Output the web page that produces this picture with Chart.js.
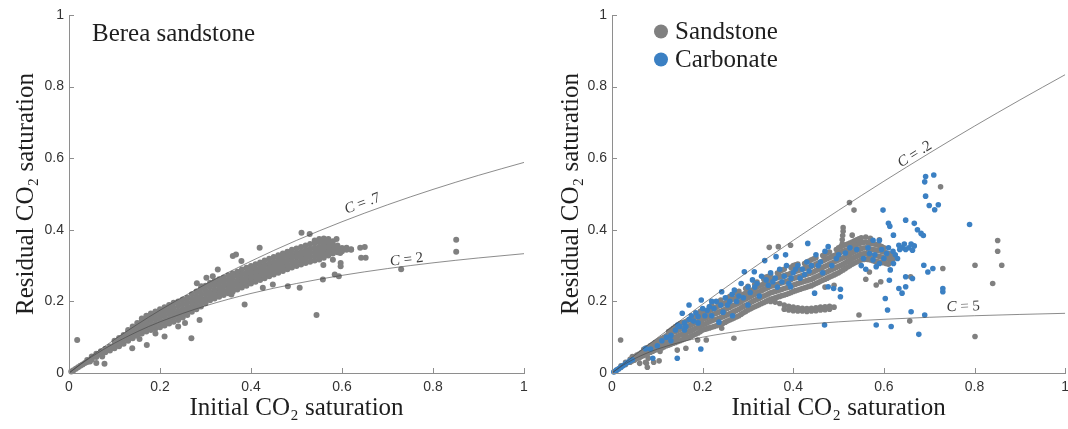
<!DOCTYPE html>
<html>
<head>
<meta charset="utf-8">
<script src="https://cdn.jsdelivr.net/npm/chart.js@4.4.1/dist/chart.umd.min.js"></script>
<style>
  html, body { margin: 0; padding: 0; background: #fff; }
  #wrap { position: relative; width: 1068px; height: 429px; overflow: hidden; }
  canvas { position: absolute; top: 0; }
</style>
</head>
<body>
<div id="wrap">
  <canvas id="berea" width="534" height="429" style="left:0"></canvas>
  <canvas id="rocks" width="534" height="429" style="left:534px"></canvas>
</div>
<script>
// ---- axis ticks ----
const tickValues = [0, 0.2, 0.4, 0.6, 0.8, 1];
const tickLabels = ['0', '0.2', '0.4', '0.6', '0.8', '1'];

// ---- Land trapping curves, sampled at curveX ----
const curveX  = [0, 0.025, 0.05, 0.075, 0.1, 0.15, 0.2, 0.3, 0.4, 0.5, 0.6, 0.7, 0.8, 0.9, 1];
const landC07 = [0, 0.0246, 0.0483, 0.0713, 0.0935, 0.1357, 0.1754, 0.2479, 0.3125, 0.3704, 0.4225, 0.4698, 0.5128, 0.5521, 0.5882];
const landC2  = [0, 0.0238, 0.0455, 0.0652, 0.0833, 0.1154, 0.1429, 0.1875, 0.2222, 0.25, 0.2727, 0.2917, 0.3077, 0.3214, 0.3333];
const landC02 = [0, 0.0249, 0.0495, 0.0739, 0.098, 0.1456, 0.1923, 0.283, 0.3704, 0.4545, 0.5357, 0.614, 0.6897, 0.7627, 0.8333];
const landC5  = [0, 0.0222, 0.04, 0.0545, 0.0667, 0.0857, 0.1, 0.12, 0.1333, 0.1429, 0.15, 0.1556, 0.16, 0.1636, 0.1667];

// ---- Berea sandstone measurements [initial, residual] ----
const bereaBand = [
  [0.005,0.004],[0.01,0.008],[0.015,0.012],[0.02,0.016],[0.025,0.02],[0.03,0.024],[0.035,0.028],
  [0.04,0.031],[0.04,0.036],[0.05,0.038],[0.05,0.046],[0.06,0.045],[0.06,0.054],[0.07,0.052],[0.07,0.061],
  [0.08,0.058],[0.08,0.068],[0.09,0.063],[0.09,0.074],
  [0.10,0.069],[0.10,0.08],[0.10,0.09],
  [0.11,0.075],[0.11,0.087],[0.11,0.098],
  [0.12,0.082],[0.12,0.094],[0.12,0.106],
  [0.13,0.09],[0.13,0.102],[0.13,0.114],[0.13,0.12],
  [0.14,0.097],[0.14,0.109],[0.14,0.121],[0.14,0.13],
  [0.15,0.104],[0.15,0.116],[0.15,0.128],[0.15,0.14],
  [0.16,0.11],[0.16,0.122],[0.16,0.134],[0.16,0.146],[0.16,0.152],
  [0.17,0.116],[0.17,0.128],[0.17,0.14],[0.17,0.152],[0.17,0.16],
  [0.18,0.12],[0.18,0.132],[0.18,0.145],[0.18,0.158],[0.18,0.166],
  [0.19,0.124],[0.19,0.137],[0.19,0.15],[0.19,0.163],[0.19,0.172],
  [0.20,0.128],[0.20,0.141],[0.20,0.154],[0.20,0.167],[0.20,0.178],
  [0.21,0.133],[0.21,0.146],[0.21,0.159],[0.21,0.172],[0.21,0.184],
  [0.22,0.138],[0.22,0.151],[0.22,0.164],[0.22,0.177],[0.22,0.19],
  [0.23,0.143],[0.23,0.156],[0.23,0.169],[0.23,0.182],[0.23,0.196],
  [0.24,0.148],[0.24,0.161],[0.24,0.174],[0.24,0.187],[0.24,0.2],
  [0.25,0.155],[0.25,0.167],[0.25,0.179],[0.25,0.192],[0.25,0.205],
  [0.26,0.162],[0.26,0.174],[0.26,0.186],[0.26,0.198],[0.26,0.21],
  [0.27,0.171],[0.27,0.183],[0.27,0.195],[0.27,0.207],[0.27,0.22],
  [0.28,0.178],[0.28,0.19],[0.28,0.202],[0.28,0.214],[0.28,0.228],
  [0.29,0.186],[0.29,0.198],[0.29,0.21],[0.29,0.222],[0.29,0.236],
  [0.30,0.195],[0.30,0.207],[0.30,0.219],[0.30,0.231],[0.30,0.244],
  [0.31,0.203],[0.31,0.215],[0.31,0.227],[0.31,0.24],[0.31,0.252],
  [0.32,0.208],[0.32,0.22],[0.32,0.232],[0.32,0.245],[0.32,0.257],
  [0.33,0.213],[0.33,0.225],[0.33,0.237],[0.33,0.25],[0.33,0.262],
  [0.34,0.218],[0.34,0.23],[0.34,0.242],[0.34,0.255],[0.34,0.267],
  [0.35,0.223],[0.35,0.235],[0.35,0.247],[0.35,0.26],[0.35,0.273],
  [0.36,0.228],[0.36,0.24],[0.36,0.252],[0.36,0.265],[0.36,0.278],
  [0.37,0.233],[0.37,0.245],[0.37,0.257],[0.37,0.27],[0.37,0.283],
  [0.38,0.239],[0.38,0.251],[0.38,0.263],[0.38,0.276],[0.38,0.289],
  [0.39,0.244],[0.39,0.256],[0.39,0.268],[0.39,0.281],[0.39,0.294],
  [0.40,0.25],[0.40,0.262],[0.40,0.274],[0.40,0.286],[0.40,0.299],
  [0.41,0.255],[0.41,0.267],[0.41,0.279],[0.41,0.291],[0.41,0.304],
  [0.42,0.26],[0.42,0.272],[0.42,0.284],[0.42,0.296],[0.42,0.309],
  [0.43,0.265],[0.43,0.277],[0.43,0.289],[0.43,0.301],[0.43,0.314],
  [0.44,0.27],[0.44,0.282],[0.44,0.294],[0.44,0.306],[0.44,0.319],
  [0.45,0.275],[0.45,0.287],[0.45,0.299],[0.45,0.311],[0.45,0.324],
  [0.46,0.28],[0.46,0.292],[0.46,0.304],[0.46,0.316],[0.46,0.329],
  [0.47,0.285],[0.47,0.297],[0.47,0.309],[0.47,0.321],[0.47,0.334],
  [0.48,0.29],[0.48,0.302],[0.48,0.314],[0.48,0.326],[0.48,0.339],
  [0.49,0.295],[0.49,0.307],[0.49,0.319],[0.49,0.331],[0.49,0.344],
  [0.50,0.299],[0.50,0.311],[0.50,0.323],[0.50,0.335],[0.50,0.348],
  [0.51,0.303],[0.51,0.315],[0.51,0.327],[0.51,0.339],[0.51,0.352],
  [0.52,0.307],[0.52,0.319],[0.52,0.331],[0.52,0.343],[0.52,0.356],
  [0.53,0.311],[0.53,0.323],[0.53,0.335],[0.53,0.347],[0.53,0.36],
  [0.54,0.314],[0.54,0.326],[0.54,0.338],[0.54,0.35],[0.54,0.363],[0.54,0.37],
  [0.55,0.317],[0.55,0.329],[0.55,0.341],[0.55,0.353],[0.55,0.366],[0.55,0.374],
  [0.56,0.322],[0.56,0.334],[0.56,0.346],[0.56,0.358],[0.56,0.37],[0.56,0.376],
  [0.57,0.328],[0.57,0.34],[0.57,0.352],[0.57,0.364],[0.57,0.374],
  [0.58,0.334],[0.58,0.345],[0.58,0.356],[0.58,0.368],
  [0.59,0.337],[0.59,0.347],[0.59,0.356],
  [0.60,0.34],[0.60,0.349],[0.61,0.344],[0.61,0.35],[0.62,0.346]
];
const bereaScatter = [
  [0.018,0.092],[0.046,0.032],[0.06,0.028],[0.078,0.026],[0.073,0.046],[0.072,0.056],
  [0.139,0.069],[0.171,0.078],[0.21,0.102],[0.269,0.097],[0.287,0.148],[0.155,0.095],
  [0.19,0.11],[0.24,0.13],[0.255,0.14],[0.386,0.191],[0.544,0.162],
  [0.302,0.266],[0.316,0.27],[0.327,0.289],[0.291,0.242],[0.281,0.251],
  [0.36,0.327],[0.367,0.331],[0.379,0.313],[0.419,0.35],[0.511,0.392],[0.529,0.388],[0.588,0.374],
  [0.357,0.219],[0.426,0.238],[0.448,0.247],[0.481,0.242],[0.507,0.238],[0.558,0.261],[0.584,0.275],
  [0.593,0.27],[0.597,0.298],[0.597,0.307],[0.559,0.326],[0.559,0.302],[0.58,0.316],[0.596,0.335],
  [0.62,0.344],[0.64,0.35],[0.65,0.352],[0.642,0.322],[0.652,0.322],
  [0.73,0.29],[0.851,0.372],[0.851,0.339]
];

// ---- sandstone and carbonate measurements [initial, residual] ----
const sandstonePts = [
  [0.005,0.004],[0.01,0.008],[0.015,0.012],[0.02,0.016],[0.02,0.02],[0.03,0.024],[0.03,0.03],
  [0.04,0.03],[0.04,0.038],[0.05,0.036],[0.05,0.046],[0.06,0.042],[0.06,0.053],
  [0.07,0.049],[0.07,0.06],[0.07,0.066],[0.08,0.055],[0.08,0.066],[0.08,0.072],
  [0.09,0.061],[0.09,0.072],[0.09,0.08],[0.10,0.066],[0.10,0.078],[0.10,0.088],
  [0.11,0.07],[0.11,0.083],[0.11,0.096],[0.12,0.076],[0.12,0.09],[0.12,0.104],
  [0.13,0.08],[0.13,0.096],[0.13,0.112],[0.13,0.12],[0.14,0.085],[0.14,0.1],[0.14,0.116],[0.14,0.13],
  [0.15,0.09],[0.15,0.106],[0.15,0.122],[0.15,0.138],[0.16,0.096],[0.16,0.11],[0.16,0.126],[0.16,0.142],
  [0.17,0.1],[0.17,0.116],[0.17,0.132],[0.17,0.148],[0.18,0.106],[0.18,0.122],[0.18,0.138],[0.18,0.155],
  [0.19,0.112],[0.19,0.128],[0.19,0.144],[0.19,0.16],[0.20,0.12],[0.20,0.135],[0.20,0.15],[0.20,0.165],[0.20,0.176],
  [0.21,0.124],[0.21,0.14],[0.21,0.156],[0.21,0.17],[0.22,0.128],[0.22,0.146],[0.22,0.162],[0.22,0.178],[0.22,0.19],
  [0.23,0.132],[0.23,0.15],[0.23,0.167],[0.23,0.184],[0.24,0.136],[0.24,0.155],[0.24,0.172],[0.24,0.19],[0.24,0.204],
  [0.25,0.142],[0.25,0.16],[0.25,0.178],[0.25,0.196],[0.26,0.148],[0.26,0.166],[0.26,0.184],[0.26,0.202],[0.26,0.214],
  [0.27,0.154],[0.27,0.172],[0.27,0.19],[0.27,0.208],[0.28,0.16],[0.28,0.178],[0.28,0.196],[0.28,0.214],[0.28,0.228],
  [0.29,0.168],[0.29,0.186],[0.29,0.204],[0.29,0.22],[0.30,0.176],[0.30,0.192],[0.30,0.21],[0.30,0.226],[0.30,0.242],
  [0.31,0.182],[0.31,0.2],[0.31,0.217],[0.31,0.232],[0.32,0.188],[0.32,0.206],[0.32,0.224],[0.32,0.24],[0.32,0.254],
  [0.33,0.194],[0.33,0.212],[0.33,0.23],[0.33,0.246],[0.34,0.2],[0.34,0.218],[0.34,0.236],[0.34,0.252],[0.34,0.268],
  [0.35,0.206],[0.35,0.224],[0.35,0.242],[0.35,0.258],[0.35,0.274],[0.36,0.21],[0.36,0.228],[0.36,0.246],[0.36,0.264],
  [0.37,0.214],[0.37,0.232],[0.37,0.25],[0.37,0.268],[0.37,0.284],[0.38,0.218],[0.38,0.236],[0.38,0.254],[0.38,0.272],[0.38,0.29],
  [0.39,0.222],[0.39,0.24],[0.39,0.258],[0.39,0.276],[0.40,0.228],[0.40,0.246],[0.40,0.264],[0.40,0.282],[0.40,0.3],
  [0.41,0.232],[0.41,0.25],[0.41,0.268],[0.41,0.286],[0.41,0.304],[0.42,0.236],[0.42,0.254],[0.42,0.272],[0.42,0.29],
  [0.43,0.24],[0.43,0.258],[0.43,0.276],[0.43,0.294],[0.43,0.31],[0.44,0.244],[0.44,0.262],[0.44,0.28],[0.44,0.298],[0.44,0.316],
  [0.45,0.25],[0.45,0.268],[0.45,0.286],[0.45,0.304],[0.45,0.322],[0.46,0.256],[0.46,0.274],[0.46,0.292],[0.46,0.31],
  [0.47,0.262],[0.47,0.28],[0.47,0.298],[0.47,0.316],[0.47,0.332],[0.48,0.268],[0.48,0.286],[0.48,0.304],[0.48,0.322],[0.48,0.338],
  [0.49,0.274],[0.49,0.292],[0.49,0.31],[0.49,0.328],[0.50,0.28],[0.50,0.298],[0.50,0.316],[0.50,0.334],[0.50,0.35],
  [0.51,0.288],[0.51,0.304],[0.51,0.322],[0.51,0.34],[0.51,0.356],[0.52,0.296],[0.52,0.312],[0.52,0.328],[0.52,0.344],[0.52,0.36],
  [0.53,0.304],[0.53,0.32],[0.53,0.336],[0.53,0.352],[0.53,0.366],[0.54,0.31],[0.54,0.326],[0.54,0.342],[0.54,0.358],[0.54,0.372],
  [0.55,0.316],[0.55,0.332],[0.55,0.348],[0.55,0.364],[0.55,0.378],[0.56,0.318],[0.56,0.334],[0.56,0.35],[0.56,0.366],[0.56,0.38],
  [0.57,0.316],[0.57,0.33],[0.57,0.346],[0.57,0.362],[0.57,0.376],[0.58,0.312],[0.58,0.328],[0.58,0.344],[0.58,0.36],
  [0.59,0.31],[0.59,0.326],[0.59,0.342],[0.59,0.356],[0.60,0.308],[0.60,0.322],[0.60,0.338],[0.60,0.35],
  [0.61,0.304],[0.61,0.32],[0.61,0.334],[0.62,0.33],[0.62,0.318],
  // in-between samples of the main band
  [0.045,0.034],[0.045,0.042],[0.055,0.041],[0.055,0.05],[0.065,0.046],[0.065,0.057],
  [0.075,0.052],[0.075,0.063],[0.075,0.07],[0.085,0.058],[0.085,0.069],[0.085,0.077],
  [0.095,0.064],[0.095,0.075],[0.095,0.085],[0.105,0.068],[0.105,0.081],[0.105,0.093],
  [0.115,0.073],[0.115,0.087],[0.115,0.1],[0.125,0.078],[0.125,0.093],[0.125,0.108],[0.125,0.116],
  [0.135,0.083],[0.135,0.098],[0.135,0.114],[0.135,0.125],[0.145,0.088],[0.145,0.103],[0.145,0.119],[0.145,0.134],
  [0.155,0.093],[0.155,0.108],[0.155,0.124],[0.155,0.14],[0.165,0.098],[0.165,0.113],[0.165,0.129],[0.165,0.145],
  [0.175,0.103],[0.175,0.119],[0.175,0.135],[0.175,0.151],[0.185,0.109],[0.185,0.125],[0.185,0.141],[0.185,0.157],
  [0.195,0.116],[0.195,0.131],[0.195,0.147],[0.195,0.162],[0.195,0.172],[0.205,0.122],[0.205,0.137],[0.205,0.153],[0.205,0.168],
  [0.215,0.126],[0.215,0.143],[0.215,0.159],[0.215,0.174],[0.215,0.185],[0.225,0.13],[0.225,0.148],[0.225,0.165],[0.225,0.181],
  [0.235,0.134],[0.235,0.152],[0.235,0.17],[0.235,0.187],[0.235,0.198],[0.245,0.139],[0.245,0.157],[0.245,0.175],[0.245,0.193],
  [0.255,0.145],[0.255,0.163],[0.255,0.181],[0.255,0.199],[0.255,0.21],[0.265,0.151],[0.265,0.169],[0.265,0.187],[0.265,0.205],
  [0.275,0.157],[0.275,0.175],[0.275,0.193],[0.275,0.211],[0.275,0.222],[0.285,0.164],[0.285,0.182],[0.285,0.2],[0.285,0.217],
  [0.295,0.172],[0.295,0.189],[0.295,0.207],[0.295,0.223],[0.295,0.236],[0.305,0.179],[0.305,0.196],[0.305,0.214],[0.305,0.229],
  [0.315,0.185],[0.315,0.203],[0.315,0.22],[0.315,0.236],[0.315,0.248],[0.325,0.191],[0.325,0.209],[0.325,0.227],[0.325,0.243],
  [0.335,0.197],[0.335,0.215],[0.335,0.233],[0.335,0.249],[0.335,0.262],[0.345,0.203],[0.345,0.221],[0.345,0.239],[0.345,0.255],[0.345,0.27],
  [0.355,0.208],[0.355,0.226],[0.355,0.244],[0.355,0.261],[0.365,0.212],[0.365,0.23],[0.365,0.248],[0.365,0.266],[0.365,0.279],
  [0.375,0.216],[0.375,0.234],[0.375,0.252],[0.375,0.27],[0.375,0.287],[0.385,0.22],[0.385,0.238],[0.385,0.256],[0.385,0.274],
  [0.395,0.225],[0.395,0.243],[0.395,0.261],[0.395,0.279],[0.395,0.295],[0.405,0.23],[0.405,0.248],[0.405,0.266],[0.405,0.284],[0.405,0.302],
  [0.415,0.234],[0.415,0.252],[0.415,0.27],[0.415,0.288],[0.425,0.238],[0.425,0.256],[0.425,0.274],[0.425,0.292],[0.425,0.306],
  [0.435,0.242],[0.435,0.26],[0.435,0.278],[0.435,0.296],[0.435,0.313],[0.445,0.247],[0.445,0.265],[0.445,0.283],[0.445,0.301],[0.445,0.319],
  [0.455,0.253],[0.455,0.271],[0.455,0.289],[0.455,0.307],[0.465,0.259],[0.465,0.277],[0.465,0.295],[0.465,0.313],[0.465,0.328],
  [0.475,0.265],[0.475,0.283],[0.475,0.301],[0.475,0.319],[0.475,0.335],[0.485,0.271],[0.485,0.289],[0.485,0.307],[0.485,0.325],
  [0.495,0.277],[0.495,0.295],[0.495,0.313],[0.495,0.331],[0.495,0.345],[0.505,0.284],[0.505,0.301],[0.505,0.319],[0.505,0.337],[0.505,0.353],
  [0.515,0.292],[0.515,0.308],[0.515,0.325],[0.515,0.342],[0.515,0.358],[0.525,0.3],[0.525,0.316],[0.525,0.332],[0.525,0.348],[0.525,0.363],
  [0.535,0.307],[0.535,0.323],[0.535,0.339],[0.535,0.355],[0.535,0.369],[0.545,0.313],[0.545,0.329],[0.545,0.345],[0.545,0.361],[0.545,0.375],
  [0.555,0.317],[0.555,0.333],[0.555,0.349],[0.555,0.365],[0.565,0.317],[0.565,0.332],[0.565,0.348],[0.565,0.364],
  [0.575,0.314],[0.575,0.329],[0.575,0.345],[0.575,0.361],[0.585,0.311],[0.585,0.327],[0.585,0.343],[0.585,0.358],
  [0.595,0.309],[0.595,0.324],[0.595,0.34],[0.595,0.353],[0.605,0.306],[0.605,0.321],[0.605,0.336],[0.615,0.31],[0.615,0.325],
  // lower branch
  [0.35,0.2],[0.36,0.198],[0.37,0.194],[0.38,0.19],[0.38,0.178],[0.39,0.186],[0.39,0.176],[0.40,0.184],[0.40,0.174],
  [0.41,0.182],[0.41,0.173],[0.42,0.181],[0.42,0.173],[0.43,0.18],[0.43,0.172],[0.44,0.181],[0.44,0.173],
  [0.45,0.182],[0.45,0.174],[0.46,0.184],[0.46,0.176],[0.47,0.185],[0.47,0.177],[0.48,0.186],[0.48,0.178],[0.49,0.184],
  // spike
  [0.508,0.36],[0.508,0.372],[0.509,0.384],[0.51,0.396],[0.51,0.406],
  // scattered
  [0.019,0.092],[0.045,0.046],[0.061,0.027],[0.076,0.027],[0.08,0.041],[0.074,0.03],[0.078,0.016],[0.092,0.03],[0.104,0.034],
  [0.106,0.06],[0.144,0.064],[0.163,0.069],[0.189,0.092],[0.208,0.092],[0.269,0.097],[0.242,0.125],[0.246,0.167],
  [0.347,0.351],[0.367,0.353],[0.394,0.357],[0.524,0.476],[0.534,0.455],[0.53,0.385],[0.59,0.372],
  [0.545,0.162],[0.657,0.145],[0.659,0.269],[0.725,0.52],[0.73,0.292],[0.801,0.301],[0.851,0.37],[0.851,0.34],
  [0.86,0.301],[0.84,0.25],[0.801,0.102],[0.56,0.262],[0.593,0.255],[0.583,0.246],[0.568,0.282],[0.47,0.24],[0.49,0.245]
];
const carbonatePts = [
  [0.004,0.003],[0.01,0.008],[0.015,0.012],[0.02,0.017],[0.025,0.021],[0.03,0.026],[0.035,0.03],[0.04,0.034],[0.045,0.037],
  [0.074,0.068],[0.085,0.067],[0.1,0.076],[0.09,0.041],[0.144,0.041],[0.196,0.067],
  [0.11,0.09],[0.12,0.1],[0.13,0.105],[0.14,0.12],[0.145,0.134],[0.15,0.13],[0.155,0.167],[0.16,0.14],[0.163,0.13],
  [0.17,0.19],[0.17,0.15],[0.175,0.16],[0.18,0.145],[0.185,0.168],[0.19,0.158],[0.197,0.204],[0.2,0.18],[0.205,0.16],
  [0.21,0.175],[0.215,0.185],[0.22,0.2],[0.23,0.2],[0.24,0.19],[0.242,0.227],[0.25,0.21],[0.26,0.2],[0.265,0.22],
  [0.27,0.232],[0.28,0.215],[0.285,0.25],[0.292,0.283],[0.3,0.24],[0.31,0.26],[0.314,0.283],[0.32,0.25],[0.33,0.27],
  [0.337,0.314],[0.34,0.26],[0.35,0.28],[0.36,0.265],[0.362,0.325],[0.37,0.29],[0.38,0.27],[0.383,0.33],[0.385,0.3],
  [0.39,0.25],[0.394,0.241],[0.4,0.28],[0.41,0.3],[0.415,0.265],[0.42,0.29],[0.43,0.31],[0.432,0.362],[0.44,0.3],
  [0.447,0.223],[0.45,0.33],[0.46,0.31],[0.47,0.34],[0.477,0.353],[0.477,0.241],[0.489,0.236],[0.495,0.32],
  [0.504,0.213],[0.504,0.234],[0.469,0.134],[0.236,0.142],[0.266,0.16],[0.3,0.19],
  [0.13,0.09],[0.16,0.12],[0.19,0.14],[0.22,0.16],[0.225,0.18],[0.245,0.17],[0.255,0.19],[0.275,0.2],
  [0.29,0.21],[0.305,0.225],[0.315,0.24],[0.325,0.215],[0.345,0.245],[0.355,0.255],[0.365,0.24],[0.375,0.255],
  [0.395,0.265],[0.405,0.29],[0.425,0.275],[0.435,0.285],[0.455,0.3],[0.465,0.28],[0.485,0.3],[0.5,0.33],
  [0.515,0.335],[0.525,0.35],[0.54,0.345],[0.565,0.35],[0.58,0.33],[0.595,0.345],[0.61,0.35],[0.62,0.34],
  [0.598,0.455],[0.61,0.418],[0.613,0.41],[0.648,0.427],[0.667,0.418],[0.674,0.4],[0.682,0.39],[0.687,0.384],
  [0.621,0.385],[0.59,0.37],[0.576,0.371],[0.633,0.357],[0.64,0.35],[0.648,0.345],[0.655,0.35],[0.663,0.343],
  [0.667,0.355],[0.645,0.36],[0.635,0.345],[0.66,0.36],[0.568,0.334],[0.576,0.316],[0.583,0.297],[0.59,0.306],
  [0.606,0.334],[0.621,0.306],[0.614,0.288],[0.6,0.32],[0.625,0.33],[0.63,0.32],[0.648,0.269],[0.663,0.264],
  [0.633,0.236],[0.648,0.241],[0.64,0.223],[0.612,0.259],
  [0.692,0.549],[0.69,0.534],[0.71,0.553],[0.692,0.494],[0.70,0.468],[0.712,0.456],[0.72,0.47],[0.789,0.415],
  [0.688,0.301],[0.697,0.282],[0.708,0.292],[0.73,0.236],[0.73,0.227],[0.603,0.208],[0.608,0.176],[0.583,0.134],
  [0.616,0.13],[0.66,0.171],[0.69,0.162],[0.677,0.108],[0.55,0.3],[0.56,0.29],[0.555,0.32]
];

// ---- styling ----
const SERIF = '"Liberation Serif", "Times New Roman", serif';
const SANS = '"Liberation Sans", Arial, sans-serif';
const AXIS_GREY = '#8e8e8e';
const SAND_GREY = '#808080';
const CARB_BLUE = '#3b80c3';
const CURVE_INK = 'rgba(70,70,70,0.62)';

const toXY = pts => pts.map(([x, y]) => ({x, y}));
const curveData = ys => curveX.map((x, i) => ({x, y: ys[i]}));

// Axis decorations, curve annotations, panel text and legend
const panelDecor = {
  id: 'panelDecor',
  afterDraw(chart, args, opts) {
    const {ctx, chartArea: area, scales: {x, y}} = chart;
    ctx.save();

    // inward tick marks
    ctx.strokeStyle = AXIS_GREY;
    ctx.lineWidth = 1;
    x.ticks.forEach(t => {
      const px = Math.round(x.getPixelForValue(t.value)) + 0.5;
      ctx.beginPath(); ctx.moveTo(px, area.bottom); ctx.lineTo(px, area.bottom - 5); ctx.stroke();
    });
    y.ticks.forEach(t => {
      const py = Math.round(y.getPixelForValue(t.value)) + 0.5;
      ctx.beginPath(); ctx.moveTo(area.left, py); ctx.lineTo(area.left + 5, py); ctx.stroke();
    });

    // "C = …" labels along the trapping curves
    chart.data.datasets.forEach(ds => {
      if (!ds.note) return;
      const pts = ds.data;
      let k = 1;
      while (k < pts.length - 1 && pts[k].x < ds.note.at) k++;
      const a = pts[k - 1], b = pts[k];
      const f = (ds.note.at - a.x) / (b.x - a.x);
      const cy = a.y + f * (b.y - a.y);
      const ax = x.getPixelForValue(ds.note.at);
      const ay = y.getPixelForValue(cy) - ds.note.lift;
      const ang = Math.atan2(y.getPixelForValue(b.y) - y.getPixelForValue(a.y),
                             x.getPixelForValue(b.x) - x.getPixelForValue(a.x));
      const italic = 'italic 15px ' + SERIF, plain = '15px ' + SERIF;
      ctx.font = italic; const wC = ctx.measureText('C').width;
      ctx.font = plain; const wR = ctx.measureText(ds.note.rest).width;
      ctx.save();
      ctx.translate(ax, ay);
      ctx.rotate(ang);
      ctx.fillStyle = '#3a3a3a';
      ctx.textBaseline = 'middle';
      ctx.textAlign = 'left';
      const x0 = -(wC + wR) / 2;
      ctx.font = italic; ctx.fillText('C', x0, 0);
      ctx.font = plain; ctx.fillText(ds.note.rest, x0 + wC, 0);
      ctx.restore();
    });

    // panel caption
    ctx.fillStyle = '#1e1e1e';
    ctx.textAlign = 'left';
    ctx.textBaseline = 'alphabetic';
    ctx.font = '25px ' + SERIF;
    if (opts.caption) ctx.fillText(opts.caption.text, opts.caption.left, opts.caption.baseline);

    // legend from dataset labels and colours
    if (opts.legend) {
      const L = opts.legend;
      L.labels.forEach((lab, i) => {
        const ds = chart.data.datasets.find(d => d.label === lab);
        const base = L.baseline + i * L.rowGap;
        ctx.beginPath();
        ctx.fillStyle = ds.backgroundColor;
        ctx.arc(L.markX, base - 7.5, L.markR, 0, Math.PI * 2);
        ctx.fill();
        ctx.fillStyle = '#1e1e1e';
        ctx.fillText(lab, L.textX, base);
      });
    }
    ctx.restore();
  }
};

function axisOptions(yWidth, yTitlePad) {
  const tickFont = {family: SANS, size: 14};
  const titleFont = {family: SERIF, size: 25, lineHeight: 1.2};
  return {
    x: {
      type: 'linear', min: 0, max: 1,
      afterBuildTicks: s => { s.ticks = tickValues.map(v => ({value: v})); },
      afterFit: s => { s.height = 56; s.paddingLeft = 0; s.paddingRight = 0; },
      grid: {display: false, drawTicks: false},
      border: {display: true, color: AXIS_GREY, width: 1},
      ticks: {padding: 6, color: '#333', font: tickFont, maxRotation: 0, autoSkip: false,
              callback: (v, i) => tickLabels[i]},
      title: {display: true, text: 'Initial CO₂ saturation', color: '#1e1e1e', font: titleFont,
              padding: {top: 0, bottom: 6}}
    },
    y: {
      type: 'linear', min: 0, max: 1,
      afterBuildTicks: s => { s.ticks = tickValues.map(v => ({value: v})); },
      afterFit: s => { s.width = yWidth; },
      grid: {display: false, drawTicks: false},
      border: {display: true, color: AXIS_GREY, width: 1},
      ticks: {padding: 5, color: '#333', font: tickFont, autoSkip: false,
              callback: (v, i) => tickLabels[i]},
      title: {display: true, text: 'Residual CO₂ saturation', color: '#1e1e1e', font: titleFont,
              padding: {top: yTitlePad, bottom: 0}}
    }
  };
}

function curveSet(ys, rest, at, lift) {
  return {
    type: 'scatter', data: curveData(ys), showLine: true, cubicInterpolationMode: 'monotone',
    borderColor: CURVE_INK, borderWidth: 1, pointRadius: 0, order: 0,
    note: {rest, at, lift}
  };
}

function pointSet(label, pts, color, radius, order) {
  return {
    label, data: toXY(pts), backgroundColor: color, borderWidth: 0,
    pointRadius: radius, pointHoverRadius: radius, order, clip: false
  };
}

const common = {
  responsive: false, animation: false, devicePixelRatio: 1, events: [],
  plugins: {legend: {display: false}, tooltip: {enabled: false}}
};

new Chart(document.getElementById('berea'), {
  type: 'scatter',
  data: {
    datasets: [
      curveSet(landC07, ' = .7', 0.645, 10.5),
      curveSet(landC2, ' = 2', 0.742, 6.3),
      pointSet('Berea sandstone', bereaBand.concat(bereaScatter), SAND_GREY, 3, 1)
    ]
  },
  options: Object.assign({}, common, {
    layout: {padding: {top: 15, right: 10, left: 0, bottom: 0}},
    scales: axisOptions(69, 11),
    plugins: Object.assign({}, common.plugins, {
      panelDecor: {caption: {text: 'Berea sandstone', left: 92, baseline: 41}}
    })
  }),
  plugins: [panelDecor]
});

new Chart(document.getElementById('rocks'), {
  type: 'scatter',
  data: {
    datasets: [
      curveSet(landC02, ' = .2', 0.668, 7.9),
      curveSet(landC5, ' = 5', 0.775, 9.3),
      pointSet('Carbonate', carbonatePts, CARB_BLUE, 2.8, 1),
      pointSet('Sandstone', sandstonePts, SAND_GREY, 2.8, 2)
    ]
  },
  options: Object.assign({}, common, {
    layout: {padding: {top: 15, right: 2, left: 0, bottom: 0}},
    scales: axisOptions(78, 22),
    plugins: Object.assign({}, common.plugins, {
      panelDecor: {legend: {labels: ['Sandstone', 'Carbonate'], markX: 127, markR: 7,
                            textX: 141, baseline: 39, rowGap: 28}}
    })
  }),
  plugins: [panelDecor]
});
</script>
</body>
</html>
